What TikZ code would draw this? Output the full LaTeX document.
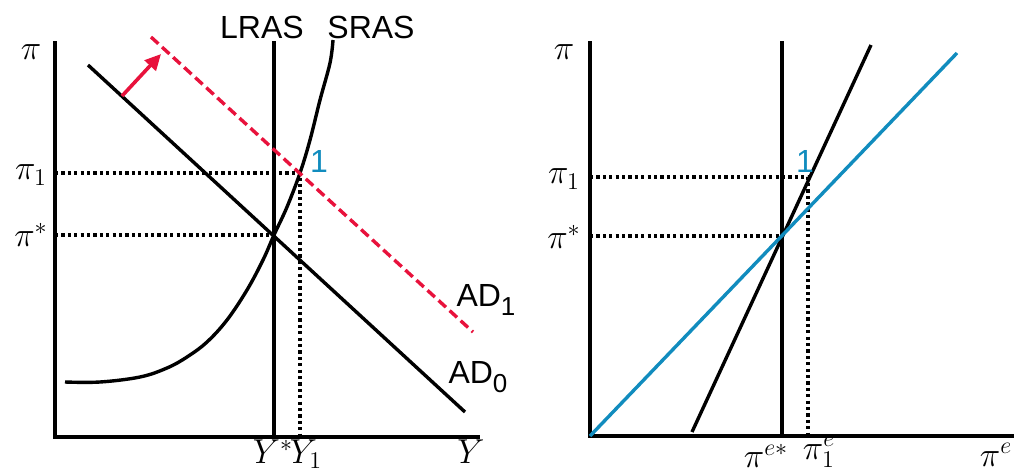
\documentclass[tikz,border=0pt]{standalone}
\usepackage{amsmath}
\usepackage{fontspec}
\setsansfont{Liberation Sans}
\usepackage{tikz}
\usetikzlibrary{arrows.meta,positioning,calc}
\DeclareMathSizes{16}{16}{13}{10}
\definecolor{shock}{HTML}{E8123C}
\definecolor{infl}{HTML}{118CBE}
\tikzset{
  axis/.style={line width=2.2pt,line cap=rect},
  curve/.style={line width=1.7pt},
  guide/.style={line width=1.6pt,dash pattern=on 1.6pt off 1.6pt},
  adshift/.style={curve,draw=shock,dash pattern=on 5pt off 2.5pt},
  push/.style={draw=shock,line width=1.8pt,-{Triangle[length=8pt,width=7.5pt]}},
  mlab/.style={font=\fontsize{16}{18}\selectfont,inner sep=1pt},
  tlab/.style={font=\fontsize{16}{18}\selectfont\sffamily,inner sep=1pt},
  eqlab/.style={tlab,text=infl},
}
\newcommand{\lowsub}[1]{\raisebox{-0.28em}{\fontsize{13}{14}\selectfont #1}}
\begin{document}
\begin{tikzpicture}[x=0.5pt,y=-0.5pt]
  \useasboundingbox (0,0) rectangle (1014,472);
  % --- left panel: AD / AS ---
  \coordinate (o) at (55,437);
  \coordinate (top) at (55,43);
  \coordinate (right) at (478,437);
  \coordinate (ystar) at (274,437);
  \coordinate (e0) at (274,235);
  \coordinate (e1) at (300,173);
  \draw[guide] (55,173) -- (e1) -- (300,437);
  \draw[guide] (55,235) -- (e0);
  \draw[axis] (top) -- (o) -- (right);
  \draw[axis] (274,43) -- (ystar);
  \draw[curve] plot[smooth,tension=0.6] coordinates {(65,382) (100,382) (140,377)
    (167,368) (187,357) (207,342) (227,320) (247,290) (263,260) (e0)
    (287,207) (e1) (310,140) (320,100) (330,63) (333,40)};
  \draw[curve] (88,65) -- (465,412);
  \draw[adshift] (151,37) -- (473,332);
  \draw[push] (122,96) -- (161,54);
  \node[mlab] (pi) at (31,52) {$\pi$};
  \node[mlab] (pione) at (31,175) {$\pi_1$};
  \node[mlab] (pistar) at (31,235) {$\pi^*$};
  \node[mlab] (ys) at (273,452) {$Y^*$};
  \node[mlab] (yone) at (306,454) {$Y_1$};
  \node[mlab] (yax) at (471,452) {$Y$};
  \node[tlab] (lras) at (262,27) {LRAS};
  \node[tlab] (sras) at (371,27) {SRAS};
  \node[eqlab] (one) at (319,161) {1};
  \node[tlab] (adone) at (486,300) {AD\lowsub{1}};
  \node[tlab] (adzero) at (478,377) {AD\lowsub{0}};
  % --- right panel: inflation vs expected inflation ---
  \coordinate (o2) at (590,436);
  \coordinate (top2) at (590,43);
  \coordinate (right2) at (1014,436);
  \coordinate (f0) at (782,236);
  \coordinate (f1) at (808,177);
  \draw[guide] (590,177) -- (f1) -- (808,436);
  \draw[guide] (590,236) -- (f0);
  \draw[axis] (top2) -- (o2) -- (right2);
  \draw[axis] (782,43) -- (782,436);
  \draw[curve] (692,432) -- (871,45);
  \draw[curve,draw=infl] (o2) -- (957,53);
  \node[mlab] (piR) at (564,52) {$\pi$};
  \node[mlab] (pioneR) at (564,179) {$\pi_1$};
  \node[mlab] (pistarR) at (564,237) {$\pi^*$};
  \node[mlab] (pes) at (766,456) {$\pi^{e*}$};
  \node[mlab] (peone) at (819,452) {$\pi^e_1$};
  \node[mlab] (pe) at (996,455) {$\pi^e$};
  \node[eqlab] (oneR) at (805,161) {1};
\end{tikzpicture}
\end{document}
